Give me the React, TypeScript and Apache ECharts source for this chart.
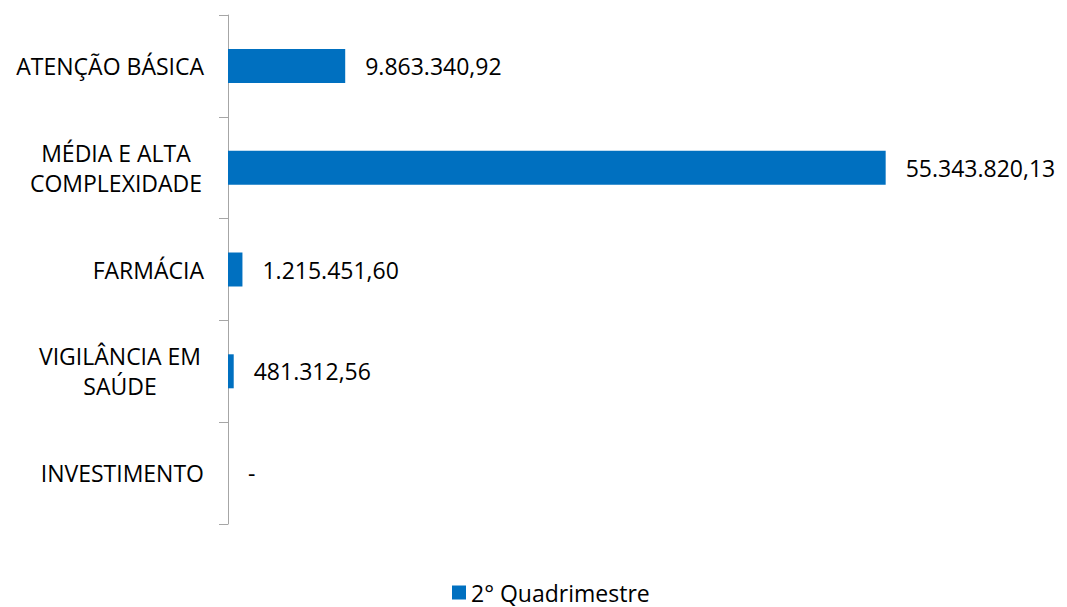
import React, { useEffect, useRef } from "react";
import * as echarts from "echarts";

const categories = [
  "ATENÇÃO BÁSICA",
  "MÉDIA E ALTA\nCOMPLEXIDADE",
  "FARMÁCIA",
  "VIGILÂNCIA EM\nSAÚDE",
  "INVESTIMENTO",
];
const values = [9863340.92, 55343820.13, 1215451.6, 481312.56, 0];
const seriesName = "2° Quadrimestre";

const FONT = "Open Sans";
const FS = 23;

function fmt(v: number): string {
  if (!v) return "-";
  const fixed = v.toFixed(2);
  const [intPart, dec] = fixed.split(".");
  const withDots = intPart.replace(/\B(?=(\d{3})+(?!\d))/g, ".");
  return withDots + "," + dec;
}

export default function App() {
  const ref = useRef<HTMLDivElement>(null);
  useEffect(() => {
    if (!ref.current) return;
    const chart = echarts.init(ref.current, null, { renderer: "svg" });
    chart.setOption({
      animation: false,
      backgroundColor: "#ffffff",
      textStyle: { fontFamily: FONT },
      grid: { left: 228, top: 15, bottom: 83, right: 126, containLabel: false },
      legend: {
        left: 452,
        top: 581,
        padding: 0,
        icon: "rect",
        itemWidth: 14,
        itemHeight: 14,
        itemGap: 6,
        textStyle: { fontSize: 23, lineHeight: 20, color: "#000", fontFamily: FONT },
        data: [seriesName],
      },
      xAxis: {
        type: "value",
        min: 0,
        max: 60000000,
        show: false,
      },
      yAxis: {
        type: "category",
        data: categories,
        inverse: true,
        axisLine: { show: true, lineStyle: { color: "#a6a6a6", width: 1 } },
        axisTick: { show: true, length: 9, lineStyle: { color: "#a6a6a6" } },
        splitLine: { show: false },
        axisLabel: {
          margin: 24,
          fontSize: FS,
          color: "#000",
          fontFamily: FONT,
          lineHeight: 30,
          formatter: (v: string) => {
            if (v.indexOf("\n") >= 0) {
              const key = v.startsWith("MÉDIA") ? "a" : "b";
              return v
                .split("\n")
                .map((l) => `{${key}|${l}}`)
                .join("\n");
            }
            return v;
          },
          rich: {
            a: { width: 176, align: "center", fontSize: FS, fontFamily: FONT, color: "#000", lineHeight: 30 },
            b: { width: 168, align: "center", fontSize: FS, fontFamily: FONT, color: "#000", lineHeight: 30 },
          },
        },
      },
      series: [
        {
          name: seriesName,
          type: "bar",
          data: values,
          barWidth: 34,
          itemStyle: { color: "#0070C0" },
          label: {
            show: true,
            position: "right",
            distance: 20,
            fontSize: FS,
            color: "#000",
            fontFamily: FONT,
            formatter: (p: any) => fmt(p.value),
          },
        },
      ],
    });
    return () => chart.dispose();
  }, []);
  return (
    <div
      ref={ref}
      style={{ position: "fixed", left: 0, top: 0, width: 1067, height: 607 }}
    />
  );
}
